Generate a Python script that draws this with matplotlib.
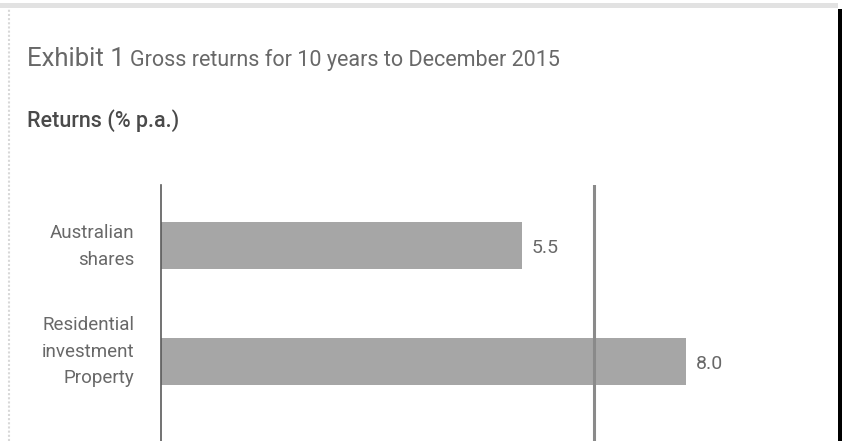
import matplotlib.pyplot as plt
from matplotlib.lines import Line2D
from matplotlib.patches import Rectangle
from matplotlib.transforms import ScaledTranslation

# returns, 10 years to December 2015 (% p.a.)
categories = ["Australian\nshares", "Residential\ninvestment\nProperty", "Australian\nlisted\nproperty"]
values = [5.5, 8.0]
ref_line = 6.6

font = ["Roboto", "DejaVu Sans"]
grey_text = "#686868"

fig = plt.figure(figsize=(8.42, 4.41), dpi=100)

# panel frame: grey band on top, faint rule on the left, dark edge on the right
fig.add_artist(Rectangle((0, 1 - 8 / 441), 838 / 842, 5 / 441, transform=fig.transFigure,
                         color="#e2e2e2", lw=0))
fig.add_artist(Line2D([9 / 842, 9 / 842], [0, 1 - 8 / 441], transform=fig.transFigure,
                      color="#d8d8d8", lw=1.5, ls=(0, (1, 1))))
fig.add_artist(Rectangle((838 / 842, 0), 4 / 842, 1 - 9 / 441, transform=fig.transFigure,
                         color="#000000", lw=0))

fig.text(27 / 842, 1 - 66 / 441, "Exhibit 1", fontsize=18.5, color=grey_text,
         family=font, ha="left", va="baseline")
fig.text(130 / 842, 1 - 66 / 441, "Gross returns for 10 years to December 2015", fontsize=15.5,
         color=grey_text, family=font, ha="left", va="baseline")
fig.text(27 / 842, 1 - 127 / 441, "Returns (% p.a.)", fontsize=15.5, color="#4a4a4a",
         family=font, fontweight="medium", ha="left", va="baseline")

ax = fig.add_axes([161 / 842, -0.2177, 656 / 842, 352 / 441])
pos = list(range(len(categories)))
ax.barh(pos[:len(values)], values, height=0.4, color="#a6a6a6")
for p, v in zip(pos, values):
    ax.text(v + 0.15, p + 0.02, f"{v:.1f}", va="center", ha="left", fontsize=14,
            color=grey_text, family=font)

ax.axvline(ref_line, color="#8a8a8a", lw=2.2)

ax.set_xlim(0, 10)
ax.set_ylim(2.51, -0.52)
ax.set_yticks(pos)
ax.set_yticklabels(categories, fontsize=13.5, color=grey_text, family=font, linespacing=1.6)
ax.tick_params(axis="y", length=0, pad=19)
# nudge the wrapped labels upward a little
for lab, dy in zip(ax.get_yticklabels(), [5, 16, 3]):
    lab.set_transform(lab.get_transform() + ScaledTranslation(0, dy / 100, fig.dpi_scale_trans))
ax.set_xticks([])
for side in ["top", "right", "bottom"]:
    ax.spines[side].set_visible(False)
ax.spines["left"].set_color("#5a5a5a")
ax.spines["left"].set_linewidth(1.2)

plt.savefig("out.png", dpi=100)
